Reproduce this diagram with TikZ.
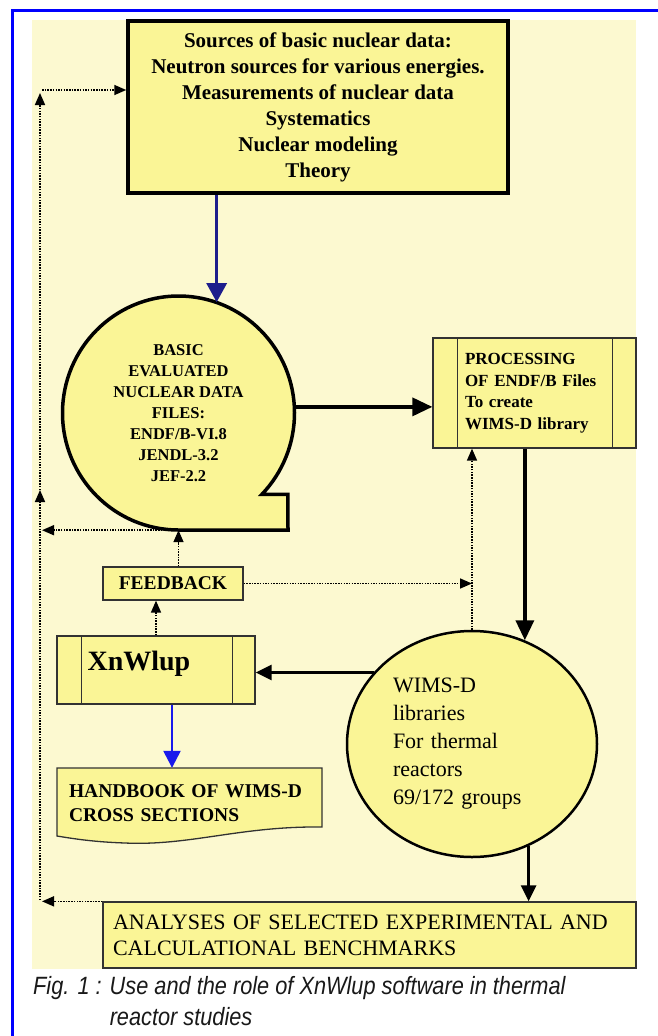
\documentclass[tikz,border=0pt]{standalone}
\usepackage{fontspec}
\setmainfont{Liberation Serif}
\newfontfamily\capfont[FakeStretch=0.87]{Liberation Sans}
\usetikzlibrary{arrows.meta,calc,shapes.geometric}
\definecolor{cream}{RGB}{252,249,208}
\definecolor{boxy}{RGB}{250,245,150}
\definecolor{frameblue}{RGB}{0,0,255}
\definecolor{navyarrow}{RGB}{30,30,140}
\definecolor{brightblue}{RGB}{25,25,235}
\definecolor{edgegray}{RGB}{50,50,50}
\begin{document}
\begin{tikzpicture}[x=1pt,y=-1pt,
  thickbox/.style={draw=black, line width=3.5pt, fill=boxy},
  thinbox/.style={draw=edgegray, line width=1.3pt, fill=boxy},
  thinline/.style={draw=edgegray, line width=1.3pt},
  bigarrow/.style={line width=3.5pt, -{Triangle[length=20pt,width=18pt]}},
  midarrow/.style={line width=2.8pt, -{Triangle[length=16pt,width=15pt]}},
  dotarrow/.style={line width=1.6pt, dash pattern=on 1.5pt off 1.2pt, -{Triangle[length=12pt,width=10pt]}},
]
\path[use as bounding box] (0,0) rectangle (658,1036);
\fill[white] (0,0) rectangle (658,1036);
\fill[cream] (32,20) rectangle (636,969);
\draw[frameblue,line width=3pt] (658,10) -- (12,10) -- (12,1036);

% top box
\node[thickbox, minimum width=380pt, minimum height=172pt, inner sep=0pt, align=center,
      font=\bfseries\fontsize{21}{26}\selectfont] (src) at (318,107)
  {Sources of basic nuclear data:\\Neutron sources for various energies.\\Measurements of nuclear data\\Systematics\\Nuclear modeling\\Theory};

% basic evaluated data (tape symbol)
\draw[thickbox] (178.5,530) arc[start angle=90,end angle=404,x radius=116,y radius=117] -- ++(26,0) -- (288,530) -- cycle;
\node[circle, minimum size=234pt, inner sep=0pt, align=center,
      font=\bfseries\fontsize{16.5}{21}\selectfont] (basic) at (178.5,413)
  {BASIC\\EVALUATED\\NUCLEAR DATA\\FILES:\\ENDF/B-VI.8\\JENDL-3.2\\JEF-2.2};

% processing box
\node[thinbox, minimum width=203pt, minimum height=110pt, inner ysep=0pt, inner xsep=32pt,
      text width=139pt, align=left, font=\bfseries\fontsize{17}{21.5}\selectfont] (proc) at (534.5,393)
  {PROCESSING\\OF ENDF/B Files\\To create\\WIMS-D library};
\draw[thinline] ($(proc.north west)+(25,0)$) -- ($(proc.south west)+(25,0)$);
\draw[thinline] ($(proc.north east)+(-24,0)$) -- ($(proc.south east)+(-24,0)$);

% WIMS circle
\node[ellipse, draw=black, line width=2.5pt, fill=boxy, minimum width=250pt, minimum height=226pt,
      inner sep=0pt, text width=158pt, align=left, font=\fontsize{22}{28}\selectfont] (wims) at (472,744)
  {WIMS-D\\libraries\\For thermal\\reactors\\69/172 groups};

% feedback
\node[thinbox, minimum width=140pt, minimum height=33pt, inner sep=0pt,
      font=\bfseries\fontsize{19.5}{22}\selectfont] (fb) at (173,583.5) {FEEDBACK};

% XnWlup
\node[thinbox, minimum width=198pt, minimum height=68pt, inner sep=0pt] (xn) at (156,670) {};
\draw[thinline] ($(xn.north west)+(25,0)$) -- ($(xn.south west)+(25,0)$);
\draw[thinline] ($(xn.north east)+(-23,0)$) -- ($(xn.south east)+(-23,0)$);
\node[anchor=base west, inner sep=0pt, font=\bfseries\fontsize{28}{30}\selectfont] (xnlabel)
  at ($(xn.west)+(31,0)$) {XnWlup};

% handbook (document shape)
\draw[thinbox] (57,768) -- (322,768) -- (322,827) .. controls (240,826) and (190,846) .. (125,843)
  .. controls (95,842) and (75,839) .. (57,836) -- cycle;
\node[inner xsep=12pt, inner ysep=0pt, text width=241pt, minimum height=70pt, align=left,
      font=\bfseries\fontsize{19.5}{23.5}\selectfont] (hb) at (189.5,803)
  {HANDBOOK OF WIMS-D\\CROSS SECTIONS};

% analyses
\node[thinbox, minimum width=533pt, minimum height=66pt, inner xsep=10pt, inner ysep=0pt,
      text width=513pt, align=left, font=\fontsize{22}{26}\selectfont] (ana) at (369.5,935)
  {ANALYSES OF SELECTED EXPERIMENTAL AND\\CALCULATIONAL BENCHMARKS};

% caption
\node[anchor=north west, inner sep=0pt, align=left, text=black!90,
      font=\capfont\itshape\fontsize{25}{31}\selectfont] (cap) at (33,976)
  {Fig. 1 : Use and the role of XnWlup software in thermal\\\phantom{Fig. 1 : }reactor studies};

% solid connectors
\draw[navyarrow, line width=3pt, -{Triangle[length=19pt,width=20pt]}] (basic.71 |- src.south) -- (basic.71);
\draw[bigarrow] (basic.3) -- (basic.3 -| proc.west);
\draw[bigarrow] (wims.63 |- proc.south) -- (wims.63);
\draw[midarrow] (wims.144) -- (wims.144 -| xn.east);
\draw[midarrow] (wims.-61) -- (wims.-61 |- ana.north);
\coordinate (xb) at ($(xn.south)+(16,0)$);
\draw[brightblue, line width=2.5pt, -{Triangle[length=17pt,width=17pt]}] (xb) -- (xb |- hb.north);

% dotted feedback connectors
\coordinate (lb) at (40,900);
\coordinate (lbt) at (42,900);
\coordinate (lm) at (40,490);
\coordinate (lt) at (40,93);
\coordinate (lh) at (42,90);
\draw[dotarrow] (wims.north) -- (wims.north |- proc.south);
\draw[dotarrow] (fb.east) -- (fb.east -| wims.north);
\draw[dotarrow] (fb.north -| basic.south) -- (basic.south);
\draw[dotarrow] (xn.north) -- (xn.north |- fb.south);
\draw[dotarrow] (ana.north west) -- (ana.north west -| lbt);
\draw[dotarrow] (basic.south) -- (basic.south -| lbt);
\draw[dotarrow] (lb) -- (lm);
\draw[dotarrow] (lm) -- (lt);
\draw[dotarrow] (lh) -- (lh -| src.west);
\end{tikzpicture}
\end{document}
